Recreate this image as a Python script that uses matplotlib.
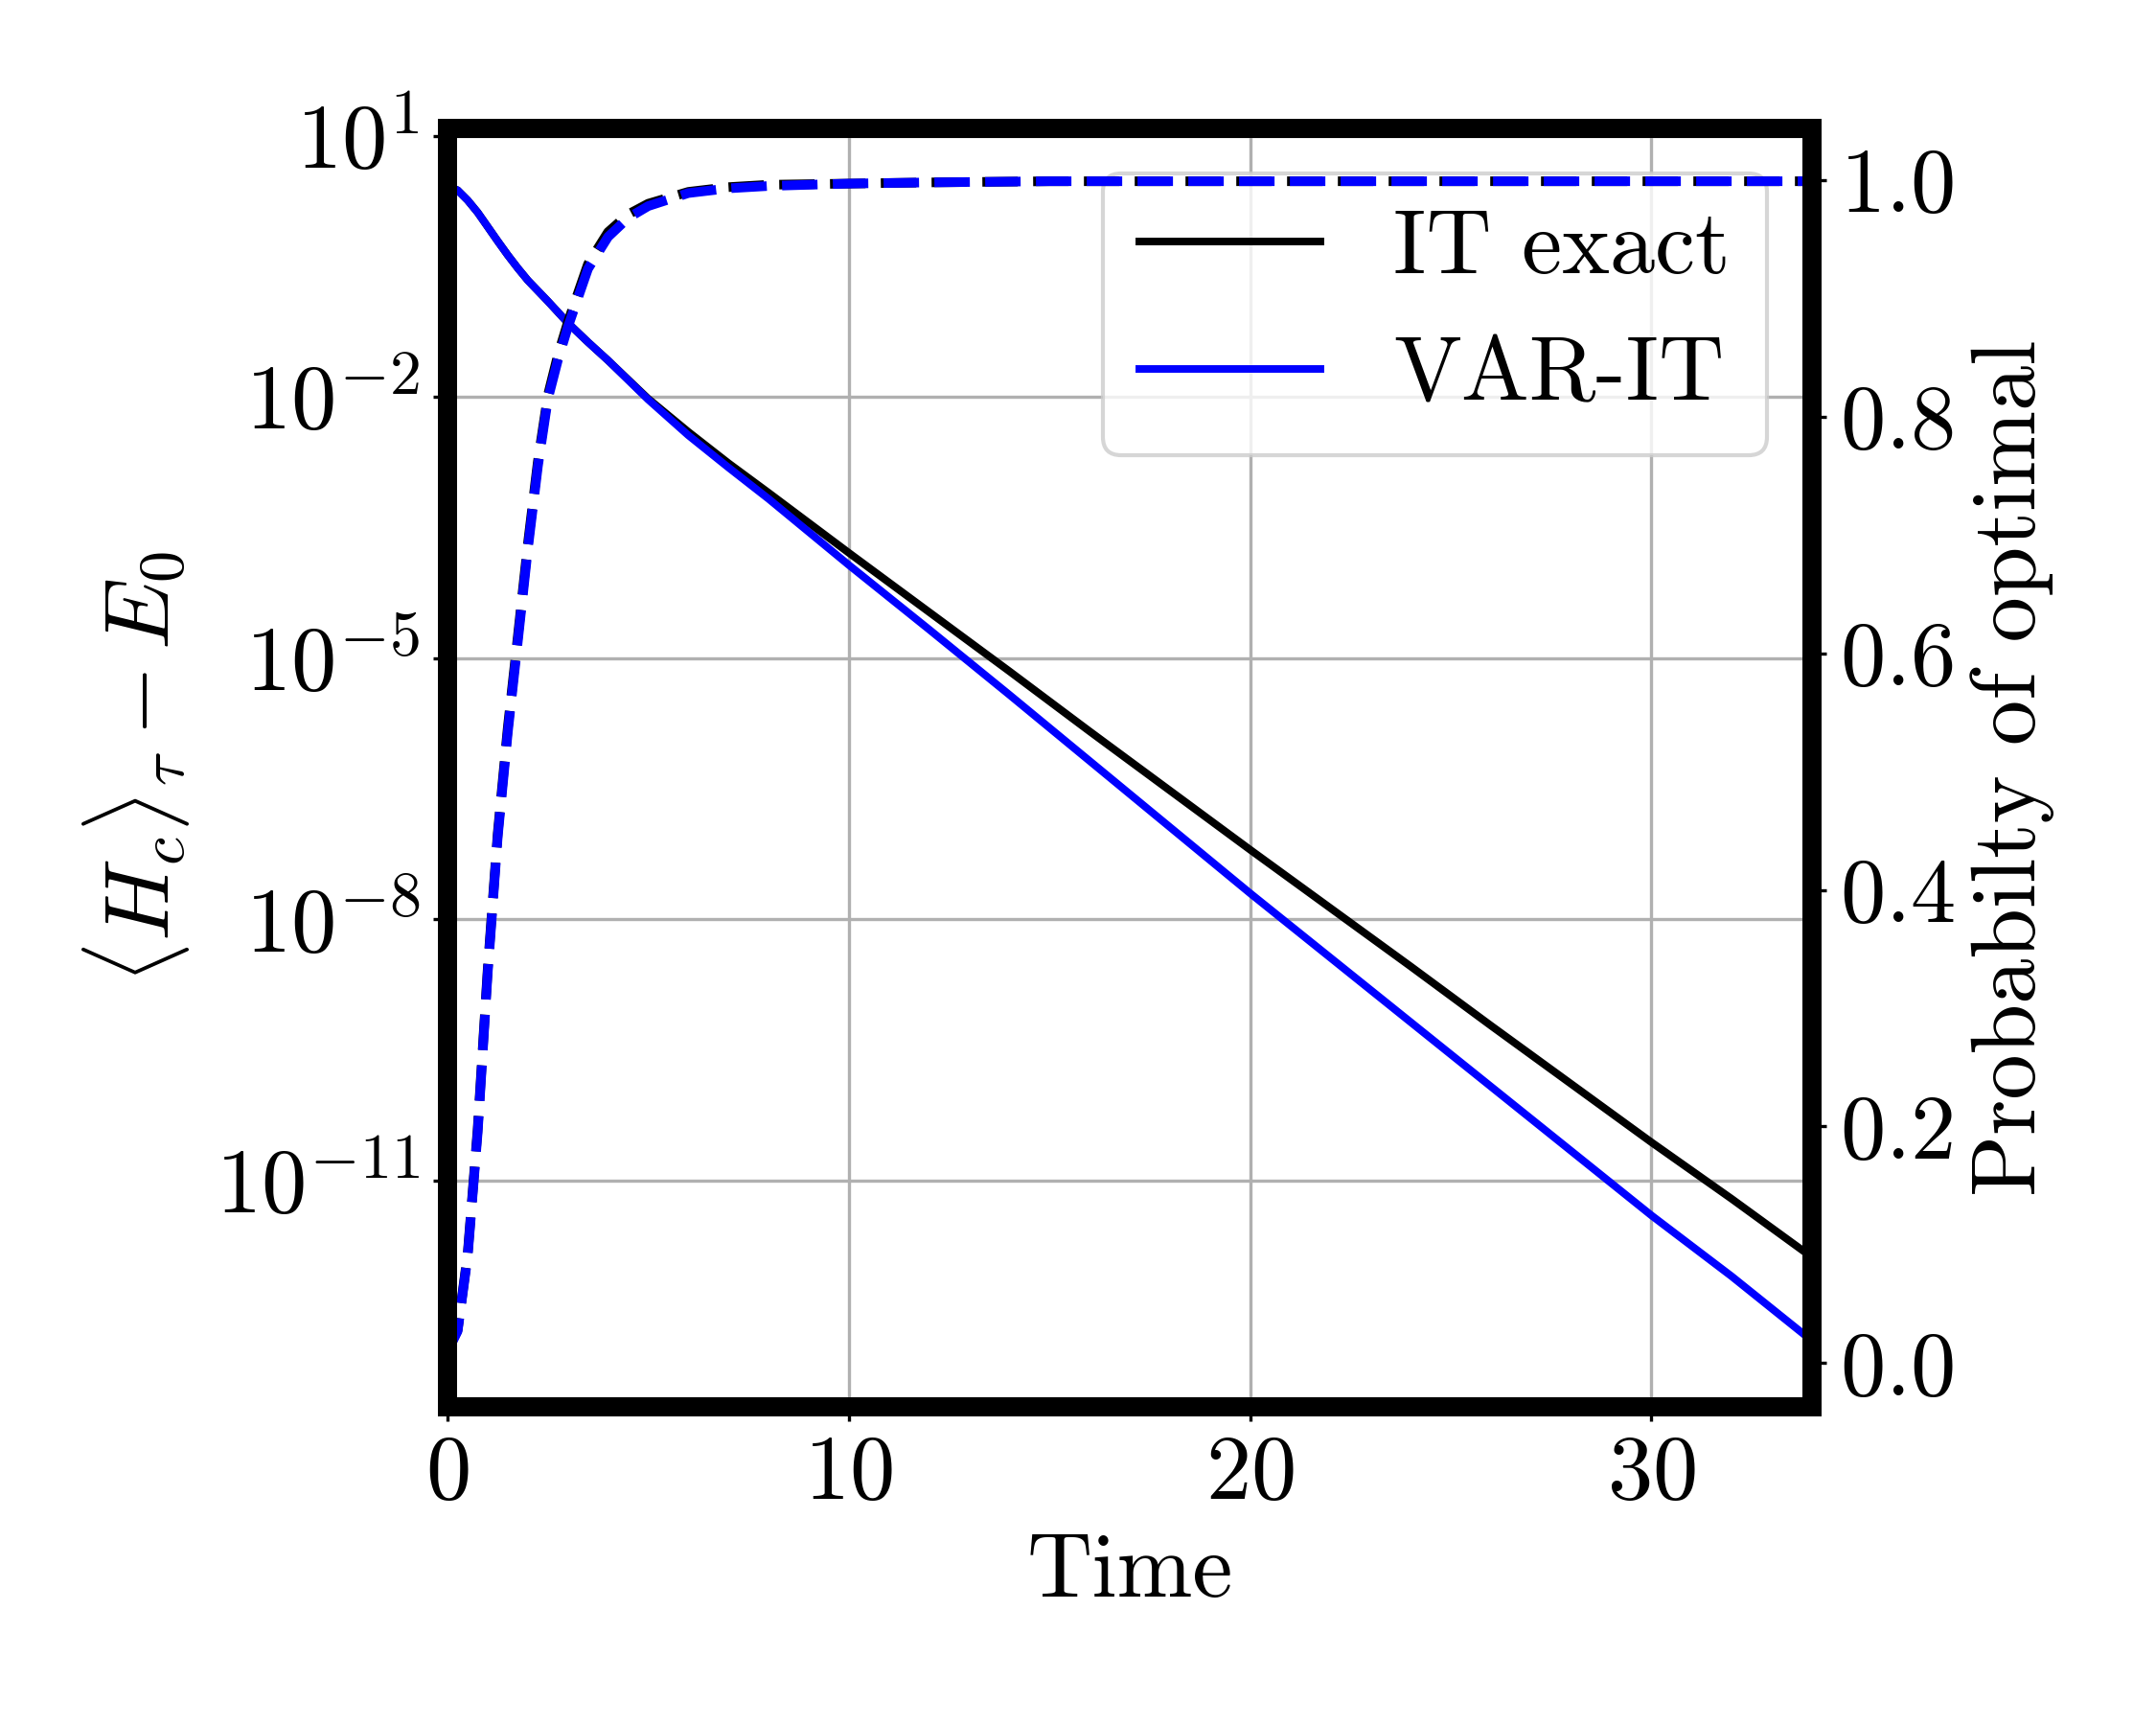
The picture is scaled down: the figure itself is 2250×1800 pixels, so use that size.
import matplotlib
matplotlib.use('Agg')
import matplotlib.pyplot as plt
import numpy as np
from matplotlib.ticker import NullLocator

plt.rcParams['font.family'] = 'serif'
plt.rcParams['font.serif'] = ['cmr10']
plt.rcParams['mathtext.fontset'] = 'cm'
plt.rcParams['axes.formatter.use_mathtext'] = True

# energy error vs imaginary time (log10 values)
t_energy = [0, 0.25, 0.5, 0.75, 1.0, 1.25, 1.5, 1.75, 2.0, 2.5, 3.0, 3.5, 4.0,
            5.0, 6.0, 7.0, 8.0, 10, 12, 14, 16, 18, 20, 22, 24, 26, 28, 30, 32, 34]
log_err_exact = [0.42, 0.375, 0.26, 0.12, -0.045, -0.21, -0.37, -0.52, -0.66,
                 -0.90, -1.15, -1.37, -1.58, -2.02, -2.40, -2.76, -3.10, -3.79,
                 -4.47, -5.15, -5.84, -6.52, -7.20, -7.87, -8.54, -9.22, -9.89,
                 -10.56, -11.21, -11.88]
log_err_var = [0.42, 0.375, 0.26, 0.12, -0.045, -0.21, -0.37, -0.52, -0.66,
               -0.90, -1.15, -1.37, -1.58, -2.03, -2.44, -2.81, -3.17, -3.93,
               -4.67, -5.42, -6.18, -6.94, -7.70, -8.44, -9.18, -9.92, -10.66,
               -11.40, -12.10, -12.84]

# probability of the optimal solution
t_prob = [0, 0.25, 0.5, 0.75, 1.0, 1.25, 1.5, 1.75, 2.0, 2.25, 2.5, 2.75, 3.0,
          3.5, 4.0, 4.5, 5.0, 6.0, 7.0, 8.0, 10, 12, 15, 20, 25, 30, 34]
prob_exact = [0.01, 0.028, 0.092, 0.198, 0.333, 0.448, 0.537, 0.614, 0.692,
              0.762, 0.818, 0.852, 0.880, 0.929, 0.956, 0.971, 0.980, 0.990,
              0.994, 0.996, 0.997, 0.998, 0.999, 0.999, 0.999, 0.999, 0.999]
prob_var = [0.01, 0.027, 0.09, 0.195, 0.33, 0.445, 0.533, 0.61, 0.688, 0.758,
            0.815, 0.848, 0.876, 0.925, 0.952, 0.968, 0.978, 0.989, 0.993,
            0.995, 0.997, 0.998, 0.999, 0.999, 0.999, 0.999, 0.999]

xticks = [0, 10, 20, 30]
yticks_log = [1e1, 1e-2, 1e-5, 1e-8, 1e-11]
ytick_labels = [r'$10^{1}$', r'$10^{-2}$', r'$10^{-5}$', r'$10^{-8}$', r'$10^{-11}$']

fs = 22.7

fig = plt.figure(figsize=(7.5, 6), dpi=300)
ax = fig.add_axes([0.2076, 0.1844, 0.6328, 0.7414])

ax.plot(t_energy, 10 ** np.array(log_err_exact), color='black', lw=1.9, label='IT exact')
ax.plot(t_energy, 10 ** np.array(log_err_var), color='blue', lw=1.9, label='VAR-IT')
ax.set_yscale('log')
ax.set_xlim(0, 34)
ax.set_ylim(10 ** -13.6, 10 ** 1.09)
ax.set_yticks(yticks_log)
ax.set_yticklabels(ytick_labels)
ax.yaxis.set_minor_locator(NullLocator())
ax.set_xticks(xticks)
ax.grid(True, color='#b0b0b0', lw=0.8)
ax.tick_params(labelsize=fs)
ax.set_xlabel('Time', fontsize=fs)
ax.set_ylabel(r'$\langle H_c \rangle_\tau - E_0$', fontsize=fs, labelpad=6)
ax.legend(loc='upper right', fontsize=fs)

ax2 = ax.twinx()
ax2.plot(t_prob, prob_exact, color='black', lw=2.4, ls='--')
ax2.plot(t_prob, prob_var, color='blue', lw=2.4, ls='--')
ax2.set_ylim(-0.037, 1.044)
ax2.set_yticks([0.0, 0.2, 0.4, 0.6, 0.8, 1.0])
ax2.tick_params(labelsize=fs)
ax2.set_ylabel('Probabilty of optimal', fontsize=fs)

for a in (ax, ax2):
    for s in a.spines.values():
        s.set_linewidth(4.8)

fig.savefig('out.png', dpi=300)
